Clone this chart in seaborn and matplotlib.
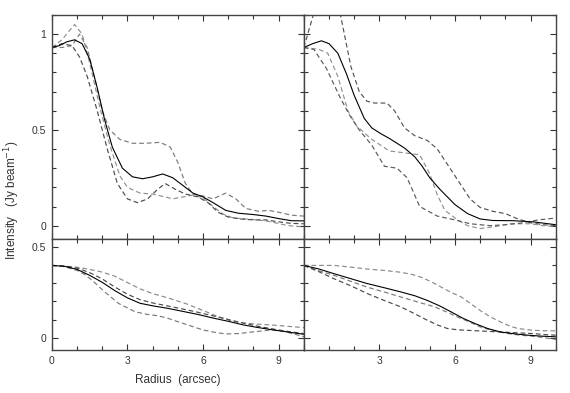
import numpy as np
import pandas as pd
import matplotlib
matplotlib.use("Agg")
import matplotlib.pyplot as plt
import seaborn as sns
from matplotlib.ticker import MultipleLocator, FixedLocator, FixedFormatter

# top left panel
tl_solid_x = [0, 0.3, 0.6, 0.9, 1.2, 1.5, 1.8, 2.1, 2.4, 2.8, 3.2, 3.6, 4.0, 4.4, 4.8, 5.2, 5.6, 6.0, 6.4, 6.9, 7.4, 8.0, 8.5, 9.0, 9.5, 10]
tl_solid_y = [0.93, 0.94, 0.96, 0.97, 0.95, 0.87, 0.72, 0.55, 0.41, 0.30, 0.255, 0.245, 0.255, 0.27, 0.25, 0.21, 0.17, 0.15, 0.12, 0.08, 0.065, 0.058, 0.05, 0.037, 0.026, 0.025]
tl_a_x = [0, 0.4, 0.8, 1.1, 1.4, 1.7, 2.0, 2.3, 2.7, 3.2, 3.7, 4.3, 4.7, 5.0, 5.3, 5.6, 6.0, 6.4, 6.9, 7.3, 7.7, 8.2, 8.6, 9.0, 9.5, 10]
tl_a_y = [0.93, 0.93, 0.94, 1.0, 0.93, 0.77, 0.60, 0.50, 0.45, 0.43, 0.43, 0.435, 0.41, 0.33, 0.22, 0.165, 0.155, 0.14, 0.17, 0.14, 0.09, 0.075, 0.08, 0.07, 0.055, 0.05]
tl_b_x = [0, 0.4, 0.9, 1.2, 1.5, 1.9, 2.3, 2.7, 3.0, 3.5, 4.0, 4.5, 4.8, 5.2, 5.6, 6.0, 6.4, 6.8, 7.2, 7.7, 8.2, 8.7, 9.2, 9.6, 10]
tl_b_y = [0.93, 0.97, 1.05, 1.0, 0.85, 0.62, 0.42, 0.26, 0.2, 0.17, 0.165, 0.15, 0.14, 0.15, 0.16, 0.145, 0.1, 0.06, 0.04, 0.035, 0.03, 0.02, 0.005, -0.003, -0.005]
tl_c_x = [0, 0.4, 0.8, 1.1, 1.4, 1.8, 2.2, 2.6, 3.0, 3.4, 3.8, 4.2, 4.5, 4.9, 5.3, 5.8, 6.2, 6.6, 7.0, 7.5, 8.0, 8.5, 9.0, 9.5, 10]
tl_c_y = [0.93, 0.95, 0.94, 0.88, 0.78, 0.6, 0.40, 0.22, 0.14, 0.12, 0.14, 0.19, 0.22, 0.19, 0.165, 0.15, 0.12, 0.07, 0.045, 0.035, 0.03, 0.03, 0.02, 0.012, 0.01]

# top right panel
tr_solid_x = [0, 0.35, 0.7, 1.0, 1.35, 1.7, 2.0, 2.4, 2.7, 3.06, 3.4, 3.7, 4.0, 4.4, 4.7, 5.0, 5.4, 5.7, 6.0, 6.5, 7.0, 7.5, 8.3, 9.1, 10]
tr_solid_y = [0.93, 0.95, 0.965, 0.95, 0.90, 0.79, 0.68, 0.56, 0.51, 0.48, 0.455, 0.43, 0.405, 0.36, 0.31, 0.25, 0.19, 0.15, 0.11, 0.063, 0.035, 0.027, 0.026, 0.02, 0.005]
tr_a_x = [0, 0.2, 0.4, 0.8, 1.1, 1.47, 1.87, 2.2, 2.5, 2.8, 3.3, 3.6, 4.0, 4.4, 4.9, 5.3, 5.7, 6.1, 6.6, 7.0, 7.5, 8.0, 8.5, 9.0, 9.5, 10]
tr_a_y = [0.93, 1.02, 1.11, 1.2, 1.2, 1.09, 0.83, 0.7, 0.65, 0.64, 0.64, 0.60, 0.51, 0.47, 0.445, 0.40, 0.32, 0.24, 0.14, 0.095, 0.075, 0.063, 0.035, 0.015, 0.005, 0.0]
tr_b_x = [0, 0.6, 0.95, 1.35, 1.75, 2.1, 2.7, 3.4, 4.0, 4.6, 5.0, 5.3, 5.6, 6.1, 6.5, 7.0, 7.6, 8.2, 9.0, 9.5, 10]
tr_b_y = [0.93, 0.92, 0.9, 0.78, 0.6, 0.52, 0.45, 0.39, 0.38, 0.37, 0.27, 0.16, 0.08, 0.03, 0.0, -0.015, -0.005, 0.01, 0.01, 0.0, -0.005]
tr_c_x = [0, 0.4, 0.9, 1.4, 1.8, 2.2, 2.7, 3.2, 3.7, 4.1, 4.6, 5.3, 6.0, 6.6, 7.4, 8.0, 8.7, 9.3, 10]
tr_c_y = [0.93, 0.92, 0.82, 0.68, 0.58, 0.50, 0.42, 0.31, 0.30, 0.25, 0.10, 0.05, 0.03, 0.01, 0.0, 0.005, 0.015, 0.03, 0.04]

# bottom left panel
bl_solid_x = [0, 0.5, 1.0, 1.5, 2.0, 2.5, 3.0, 3.5, 4.0, 4.6, 5.2, 5.8, 6.4, 7.0, 7.6, 8.2, 8.8, 9.4, 10]
bl_solid_y = [0.40, 0.395, 0.378, 0.345, 0.306, 0.26, 0.22, 0.19, 0.176, 0.162, 0.145, 0.128, 0.108, 0.09, 0.07, 0.055, 0.042, 0.03, 0.018]
bl_a_x = [0, 0.5, 1.0, 1.5, 2.0, 2.5, 3.0, 3.5, 4.0, 4.6, 5.3, 6.0, 6.6, 7.2, 7.7, 8.2, 8.7, 9.3, 10]
bl_a_y = [0.40, 0.397, 0.39, 0.378, 0.363, 0.34, 0.305, 0.27, 0.244, 0.22, 0.189, 0.15, 0.116, 0.09, 0.079, 0.074, 0.07, 0.063, 0.055]
bl_b_x = [0, 0.5, 1.0, 1.5, 2.0, 2.5, 3.0, 3.5, 4.0, 4.6, 5.2, 5.8, 6.4, 7.0, 7.6, 8.2, 8.8, 9.4, 10]
bl_b_y = [0.40, 0.396, 0.385, 0.36, 0.325, 0.28, 0.24, 0.21, 0.192, 0.175, 0.158, 0.14, 0.12, 0.1, 0.08, 0.062, 0.047, 0.033, 0.022]
bl_c_x = [0, 0.5, 1.0, 1.3, 1.6, 2.1, 2.65, 3.3, 3.8, 4.2, 4.6, 5.0, 5.5, 6.0, 6.5, 6.9, 7.4, 7.9, 8.7, 9.2, 9.6, 10]
bl_c_y = [0.40, 0.393, 0.372, 0.35, 0.317, 0.253, 0.189, 0.143, 0.128, 0.121, 0.107, 0.088, 0.065, 0.042, 0.028, 0.02, 0.022, 0.03, 0.042, 0.035, 0.02, 0.005]

# bottom right panel
br_solid_x = [0, 0.6, 1.2, 1.9, 2.5, 3.2, 3.85, 4.4, 4.9, 5.4, 5.85, 6.3, 6.8, 7.3, 7.8, 8.4, 8.9, 9.4, 10]
br_solid_y = [0.40, 0.38, 0.354, 0.325, 0.30, 0.276, 0.253, 0.232, 0.206, 0.175, 0.142, 0.108, 0.077, 0.05, 0.031, 0.02, 0.013, 0.008, 0.004]
br_a_x = [0, 0.6, 1.2, 1.9, 2.5, 3.2, 3.85, 4.3, 4.65, 5.05, 5.45, 5.85, 6.25, 6.65, 7.0, 7.4, 7.8, 8.2, 8.5, 9.1, 9.5, 10]
br_a_y = [0.40, 0.40, 0.40, 0.39, 0.38, 0.372, 0.362, 0.35, 0.335, 0.31, 0.28, 0.25, 0.225, 0.185, 0.15, 0.115, 0.087, 0.062, 0.05, 0.04, 0.038, 0.037]
br_b_x = [0, 0.6, 1.2, 1.9, 2.5, 3.2, 3.85, 4.5, 5.2, 5.7, 6.1, 6.6, 7.0, 7.5, 8.1, 8.6, 9.1, 9.5, 10]
br_b_y = [0.40, 0.37, 0.345, 0.31, 0.28, 0.252, 0.225, 0.198, 0.17, 0.14, 0.114, 0.085, 0.059, 0.038, 0.022, 0.013, 0.007, 0.0, -0.011]
br_c_x = [0, 0.6, 1.2, 1.9, 2.5, 3.2, 3.85, 4.4, 4.9, 5.3, 5.7, 6.1, 6.5, 7.2, 7.8, 8.5, 9.1, 9.6, 10]
br_c_y = [0.40, 0.365, 0.326, 0.285, 0.245, 0.205, 0.17, 0.132, 0.096, 0.07, 0.05, 0.043, 0.04, 0.035, 0.031, 0.026, 0.022, 0.016, 0.013]

x_ticks = [0, 3, 6, 9]

sns.set_style("ticks")
plt.rcParams["font.family"] = ["Liberation Sans", "DejaVu Sans"]


def draw_profiles(ax, solid, dashed):
    # solid mean profile, dashed individual profiles
    for (x, y), col in dashed:
        sns.lineplot(x=x, y=y, ax=ax, color=col, linewidth=0.85,
                     estimator=None, sort=False)
        ax.lines[-1].set_dashes([4, 2.5])
    sns.lineplot(x=solid[0], y=solid[1], ax=ax, color="black",
                 linewidth=0.8, estimator=None, sort=False)


def style_axes(ax, ylim, yticks, ylabels, xlabels):
    ax.set_xlim(0, 10)
    ax.set_ylim(*ylim)
    ax.xaxis.set_major_locator(FixedLocator(x_ticks))
    ax.xaxis.set_major_formatter(FixedFormatter(xlabels))
    ax.xaxis.set_minor_locator(MultipleLocator(1))
    ax.yaxis.set_major_locator(FixedLocator(yticks))
    ax.yaxis.set_major_formatter(FixedFormatter(ylabels))
    ax.yaxis.set_minor_locator(MultipleLocator(0.1))
    ax.tick_params(which="both", direction="in", top=True, right=True,
                   colors="#333333", labelsize=7.5, width=0.8)
    ax.tick_params(which="major", length=4.5, pad=4)
    ax.tick_params(which="minor", length=2.8)
    for s in ax.spines.values():
        s.set_color("#444444")
        s.set_linewidth(1.0)
    ax.set_xlabel("")
    ax.set_ylabel("")


fig = plt.figure(figsize=(5.7, 3.93), dpi=100)
gs = fig.add_gridspec(2, 2, height_ratios=[224, 111], hspace=0, wspace=0,
                      left=0.091, right=0.975, top=0.962, bottom=0.109)
ax_tl = fig.add_subplot(gs[0, 0])
ax_tr = fig.add_subplot(gs[0, 1])
ax_bl = fig.add_subplot(gs[1, 0])
ax_br = fig.add_subplot(gs[1, 1])

draw_profiles(ax_tl, (tl_solid_x, tl_solid_y),
              [((tl_a_x, tl_a_y), "#7a7a7a"), ((tl_b_x, tl_b_y), "#8f8f8f"),
               ((tl_c_x, tl_c_y), "#4a4a4a")])
draw_profiles(ax_tr, (tr_solid_x, tr_solid_y),
              [((tr_a_x, tr_a_y), "#555555"), ((tr_b_x, tr_b_y), "#909090"),
               ((tr_c_x, tr_c_y), "#5a5a5a")])
draw_profiles(ax_bl, (bl_solid_x, bl_solid_y),
              [((bl_a_x, bl_a_y), "#8a8a8a"), ((bl_b_x, bl_b_y), "#4a4a4a"),
               ((bl_c_x, bl_c_y), "#7a7a7a")])
draw_profiles(ax_br, (br_solid_x, br_solid_y),
              [((br_a_x, br_a_y), "#8a8a8a"), ((br_b_x, br_b_y), "#7a7a7a"),
               ((br_c_x, br_c_y), "#4a4a4a")])

top_ylim = (-0.07, 1.1)
bot_ylim = (-0.07, 0.546)
style_axes(ax_tl, top_ylim, [0, 0.5, 1], ["0", "0.5", "1"], ["", "", "", ""])
style_axes(ax_tr, top_ylim, [0, 0.5, 1], ["", "", ""], ["", "", "", ""])
style_axes(ax_bl, bot_ylim, [0, 0.5], ["0", "0.5"], ["0", "3", "6", "9"])
style_axes(ax_br, bot_ylim, [0, 0.5], ["", ""], ["", "3", "6", "9"])

fig.text(0.022, 0.49, "Intensity   (Jy beam$^{-1}$)", rotation=90,
         ha="center", va="center", fontsize=8.5, color="#333333")
fig.text(0.312, 0.033, "Radius  (arcsec)", ha="center", va="center",
         fontsize=8.5, color="#333333")

fig.savefig("out.png", dpi=100)
